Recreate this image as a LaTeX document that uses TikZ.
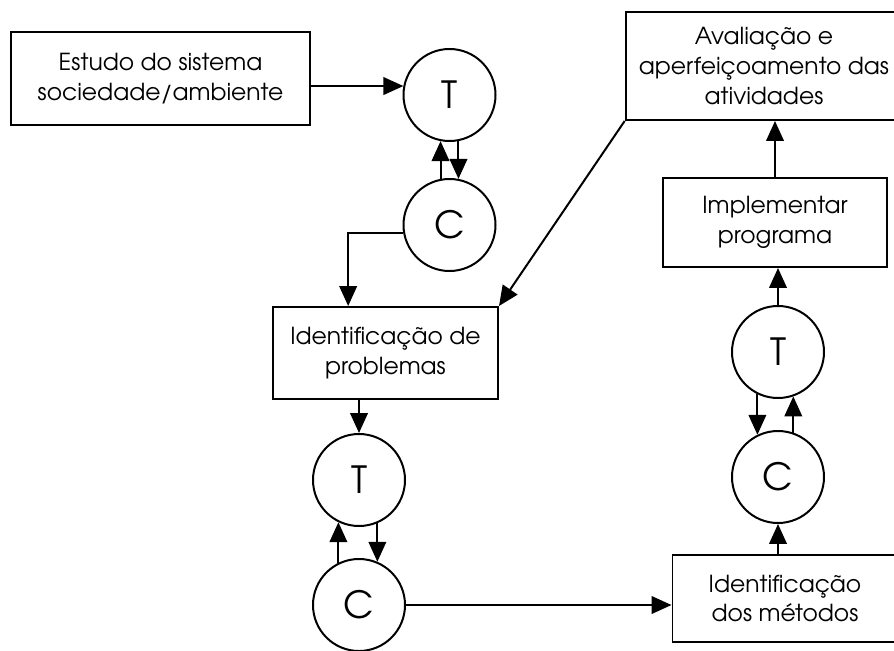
\documentclass[tikz,border=0pt]{standalone}
\usepackage{fontspec}
\setmainfont{texgyreadventor-regular.otf}
\usetikzlibrary{positioning}
\usetikzlibrary{arrows.meta}
\tikzset {
  x=0.03cm, y=-0.03cm,
  node distance={3.75cm},
  % circled T and C
  main/.style = {draw, circle, minimum size=2.76cm, inner sep=0pt, font=\fontsize{32}{32}\selectfont},
  % rectangular steps
  etapa/.style = {draw, rectangle, align=center, inner sep=0pt, font=\fontsize{20}{25.5}\selectfont},
  % connectors
  seta/.style = {-{Triangle[length=17pt, width=15pt]}},
  every path/.style = {line width=1.7pt},
}

\begin{document}
\begin{tikzpicture}
        \useasboundingbox (0,0) rectangle (894,651);
        \node[etapa, minimum width=8.97cm, minimum height=2.79cm] (1) at (160.5,78.5) {Estudo do sistema\\sociedade/ambiente};
        \node[main] (2) at (449.5,95) {T};
        \node[main] (3) [below of=2, node distance=3.9cm] {C};
        \node[etapa, minimum width=6.75cm, minimum height=2.76cm] (4) at (385.5,353) {Identificação de\\problemas};
        \node[main] (5) at (359,480) {T};
        \node[main] (6) [below of=5] {C};
        \node[etapa, minimum width=6.75cm, minimum height=2.61cm] (7) at (785,598.5) {Identificação\\dos métodos};
        \node[main] (9) at (778,352) {T};
        \node[main] (8) [below of=9] {C};
        \node[etapa, minimum width=6.72cm, minimum height=2.67cm] (10) at (775,222.5) {Implementar\\programa};
        \node[etapa, minimum width=8.3cm, minimum height=3.24cm] (11) at (764,66) {Avaliação e\\aperfeiçoamento das\\atividades};

        \draw [seta] (1.east |- 2.169) -- (2.169);
        \draw [seta] (3.101) -- (2.259);
        \draw [seta] (2.281) -- (3.79);
        \draw [seta] (3.190) -| ([xshift=-1.12cm]4.north);
        \draw [seta] (11.south west) -- (4.north east);
        \draw [seta] (4.south -| 5.north) -- (5.north);
        \draw [seta] (6.116) -- (5.244);
        \draw [seta] (5.293) -- (6.67);
        \draw [seta] (6.east) -- (6.east -| 7.west);
        \draw [seta] (7.north -| 8.south) -- (8.south);
        \draw [seta] (9.244) -- (8.116);
        \draw [seta] (8.71) -- (9.289);
        \draw [seta] (9.north) -- (9.north |- 10.south);
        \draw [seta] (10.north) -- (10.north |- 11.south);
      \end{tikzpicture}
\end{document}
